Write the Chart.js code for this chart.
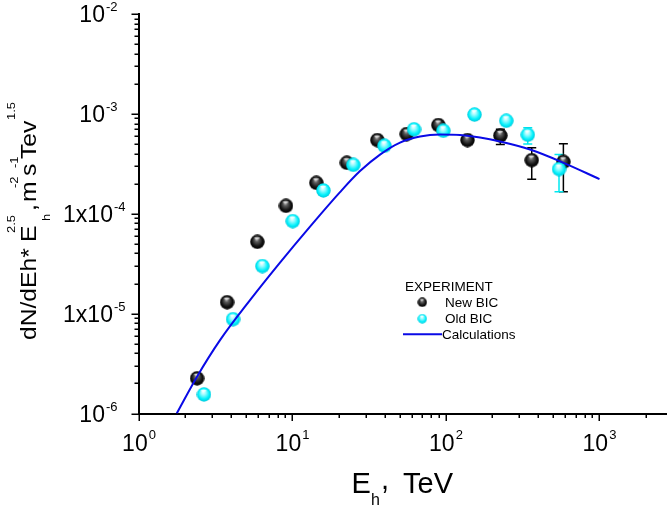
<!DOCTYPE html>
<html>
<head>
<meta charset="utf-8">
<style>
html,body{margin:0;padding:0;background:#fff;}
#c{display:block;}
</style>
</head>
<body>
<canvas id="c" width="667" height="509"></canvas>
<script src="https://cdn.jsdelivr.net/npm/chart.js@4.4.0/dist/chart.umd.min.js"></script>
<script>
// ---- data ----
const newBicE    = [2.39, 3.75, 5.9, 9.07, 14.3, 22.6, 35.7, 55.5, 89.2, 138, 226, 362, 582];
const newBicFlux = [2.25e-6, 1.30e-5, 5.23e-5, 1.20e-4, 2.04e-4, 3.24e-4, 5.46e-4, 6.28e-4, 7.73e-4, 5.46e-4, 6.07e-4, 3.44e-4, 3.31e-4];
const newBicErrLo = [null, null, null, null, null, null, null, null, null, null, 4.95e-4, 2.22e-4, 1.66e-4];
const newBicErrHi = [null, null, null, null, null, null, null, null, null, null, 7.0e-4, 4.57e-4, 5.01e-4];

const oldBicE    = [2.65, 4.10, 6.36, 10.03, 15.9, 24.9, 39.7, 61.9, 96.1, 153.5, 247, 341, 545];
const oldBicFlux = [1.55e-6, 8.79e-6, 2.99e-5, 8.43e-5, 1.71e-4, 3.09e-4, 4.79e-4, 7.0e-4, 6.77e-4, 9.84e-4, 8.53e-4, 6.18e-4, 2.80e-4];
const oldBicErrLo = [null, null, null, null, null, null, null, null, null, null, null, 4.98e-4, 1.66e-4];
const oldBicErrHi = [null, null, null, null, null, null, null, null, null, null, null, 7.26e-4, 3.93e-4];

const calcE    = [1.76, 2.377, 3.372, 5.289, 8.29, 13.01, 20.4, 27.54, 37.18, 50.2, 67.76, 91.49, 123.5, 166.7, 225.1, 353, 579, 1000];
const calcFlux = [1.0e-6, 2.311e-6, 5.426e-6, 1.365e-5, 3.241e-5, 7.436e-5, 1.648e-4, 2.676e-4, 3.914e-4, 5.162e-4, 5.929e-4, 6.208e-4, 6.137e-4, 5.793e-4, 5.282e-4, 4.393e-4, 3.254e-4, 2.224e-4];

const xTickValues = [1, 10, 100, 1000];
const xTickBase   = ['10', '10', '10', '10'];
const xTickExp    = ['0', '1', '2', '3'];
const yTickValues = [1e-2, 1e-3, 1e-4, 1e-5, 1e-6];
const yTickBase   = ['10', '10', '1x10', '1x10', '10'];
const yTickExp    = ['-2', '-3', '-4', '-5', '-6'];

const legendTitle = 'EXPERIMENT';
const seriesNames = ['New BIC', 'Old BIC', 'Calculations'];

const X_MIN = 1, X_MAX = 2754, Y_MIN = 1e-6, Y_MAX = 1e-2;
const FONT = '"Liberation Sans", Arial, Helvetica, sans-serif';
const LINE_BLUE = '#0a0ae6';

// ---- 3D sphere markers ----
function makeSphere(d, stops, hl) {
  const cv = document.createElement('canvas');
  cv.width = d; cv.height = d;
  const g = cv.getContext('2d');
  const r = d / 2;
  const grad = g.createRadialGradient(r * 0.9, r * 0.62, 0, r, r, r);
  stops.forEach(s => grad.addColorStop(s[0], s[1]));
  g.fillStyle = grad;
  g.beginPath(); g.arc(r, r, r - 0.3, 0, Math.PI * 2); g.fill();
  g.fillStyle = hl;
  g.beginPath(); g.ellipse(r * 0.95, r * 0.5, r * 0.38, r * 0.14, 0, 0, Math.PI * 2); g.fill();
  return cv;
}
const blackStops = [[0, '#c8c8c8'], [0.28, '#5a5a5a'], [0.7, '#121212'], [1, '#000000']];
const cyanStops  = [[0, '#ffffff'], [0.3, '#9ffcff'], [0.72, '#00f0fb'], [1, '#00c4d8']];
const blackBall = makeSphere(15, blackStops, 'rgba(255,255,255,0.75)');
const cyanBall  = makeSphere(15, cyanStops, 'rgba(255,255,255,0.8)');
const blackBallSmall = makeSphere(10, blackStops, 'rgba(255,255,255,0.75)');
const cyanBallSmall  = makeSphere(10, cyanStops, 'rgba(255,255,255,0.8)');

function pts(xs, ys) { return xs.map((v, i) => ({x: v, y: ys[i]})); }

function drawErrBars(ctx, xs, lo, hi, color, xs_, ys_) {
  ctx.save();
  ctx.strokeStyle = color;
  ctx.lineWidth = 1.5;
  for (let i = 0; i < xs.length; i++) {
    if (lo[i] == null || hi[i] == null) continue;
    const px = xs_.getPixelForValue(xs[i]);
    const p1 = ys_.getPixelForValue(lo[i]);
    const p2 = ys_.getPixelForValue(hi[i]);
    ctx.beginPath();
    ctx.moveTo(px, p1); ctx.lineTo(px, p2);
    ctx.moveTo(px - 4.5, p1); ctx.lineTo(px + 4.5, p1);
    ctx.moveTo(px - 4.5, p2); ctx.lineTo(px + 4.5, p2);
    ctx.stroke();
  }
  ctx.restore();
}

// text piece placed at its own start point; optional stretch along the text
function piece(ctx, t, size, x, y, angle, stretch) {
  ctx.save();
  ctx.translate(x, y);
  ctx.rotate(angle);
  ctx.scale(stretch || 1, 1);
  ctx.font = size + 'px ' + FONT;
  ctx.fillStyle = '#000';
  ctx.textAlign = 'left';
  ctx.textBaseline = 'alphabetic';
  ctx.fillText(t, 0, 0);
  ctx.restore();
}

const decorPlugin = {
  id: 'decor',
  beforeDatasetsDraw(chart) {
    const {ctx, scales: {x, y}} = chart;
    drawErrBars(ctx, newBicE, newBicErrLo, newBicErrHi, '#000000', x, y);
    drawErrBars(ctx, oldBicE, oldBicErrLo, oldBicErrHi, '#00e8f0', x, y);
  },
  afterDraw(chart) {
    const {ctx, chartArea: a, scales: {x, y}} = chart;
    ctx.save();
    // tick marks
    ctx.strokeStyle = '#000';
    ctx.lineWidth = 1.5;
    ctx.beginPath();
    for (let e = 0; e <= 3; e++) {
      for (let m = 1; m <= 9; m++) {
        const v = m * Math.pow(10, e);
        if (v > X_MAX) break;
        const px = Math.round(x.getPixelForValue(v)) + 0.25;
        ctx.moveTo(px, a.bottom);
        ctx.lineTo(px, a.bottom + (m === 1 ? 7.5 : 4.5));
      }
    }
    for (let e = -6; e <= -2; e++) {
      for (let m = 1; m <= 9; m++) {
        const v = m * Math.pow(10, e);
        if (v > Y_MAX * 1.0001) break;
        const py = Math.round(y.getPixelForValue(v)) + 0.25;
        ctx.moveTo(a.left, py);
        ctx.lineTo(a.left - (m === 1 ? 7.5 : 4.5), py);
      }
    }
    ctx.stroke();

    // x tick labels
    ctx.fillStyle = '#000';
    ctx.textBaseline = 'alphabetic';
    xTickValues.forEach((v, i) => {
      const px = x.getPixelForValue(v);
      ctx.font = '23px ' + FONT;
      const wb = ctx.measureText(xTickBase[i]).width;
      ctx.font = '13px ' + FONT;
      const ws = ctx.measureText(xTickExp[i]).width;
      const start = px - (wb + ws + 1) / 2;
      ctx.font = '23px ' + FONT;
      ctx.fillText(xTickBase[i], start, a.bottom + 37);
      ctx.font = '13px ' + FONT;
      ctx.fillText(xTickExp[i], start + wb + 1, a.bottom + 25);
    });
    // y tick labels
    yTickValues.forEach((v, i) => {
      const py = y.getPixelForValue(v);
      ctx.font = '23px ' + FONT;
      const wb = ctx.measureText(yTickBase[i]).width;
      ctx.font = '13px ' + FONT;
      const ws = ctx.measureText(yTickExp[i]).width;
      const right = a.left - (yTickBase[i].length > 2 ? 13.5 : 21.5);
      const start = right - ws - wb - 1;
      ctx.font = '23px ' + FONT;
      ctx.fillText(yTickBase[i], start, py + 8);
      ctx.font = '13px ' + FONT;
      ctx.fillText(yTickExp[i], start + wb + 1, py - 3);
    });

    // x axis title  E_h, TeV
    piece(ctx, 'E', 29, 351.5, 493.3, 0);
    piece(ctx, 'h', 16, 371, 505, 0);
    piece(ctx, ',', 29, 381, 489, 0);
    piece(ctx, 'TeV', 29, 403, 493.3, 0);

    // y axis title (rotated, reads bottom to top)
    const R = -Math.PI / 2, S = 1.12;
    piece(ctx, 'dN/dEh*', 22, 36, 340, R, S);
    piece(ctx, 'E', 22, 36, 242, R, S);
    piece(ctx, '2.5', 11.5, 15, 233, R, S);
    piece(ctx, 'h', 11.5, 50, 221, R, S);
    piece(ctx, ',', 22, 36, 211, R, S);
    piece(ctx, 'm', 22, 36, 202, R, S);
    piece(ctx, '-2', 11.5, 18, 188, R, S);
    piece(ctx, 's', 22, 36, 176, R, S);
    piece(ctx, '-1', 11.5, 18, 168, R, S);
    piece(ctx, 'Tev', 22, 36, 159, R, S);
    piece(ctx, '1.5', 11.5, 15, 120, R, S);

    // legend
    ctx.fillStyle = '#000';
    ctx.font = '13.5px ' + FONT;
    ctx.fillText(legendTitle, 405, 291);
    ctx.drawImage(blackBallSmall, 422.3 - 5, 302.3 - 5);
    ctx.fillText(seriesNames[0], 445, 306.7);
    ctx.drawImage(cyanBallSmall, 422.3 - 5, 318.7 - 5);
    ctx.fillText(seriesNames[1], 445, 322.7);
    ctx.strokeStyle = LINE_BLUE;
    ctx.lineWidth = 2;
    ctx.beginPath(); ctx.moveTo(403, 334.3); ctx.lineTo(442, 334.3); ctx.stroke();
    ctx.fillText(seriesNames[2], 442, 338.7);
    ctx.restore();
  }
};

new Chart(document.getElementById('c'), {
  type: 'scatter',
  data: {
    datasets: [
      {
        label: seriesNames[2],
        data: pts(calcE, calcFlux),
        showLine: true,
        borderColor: LINE_BLUE,
        borderWidth: 2,
        pointRadius: 0,
        pointHoverRadius: 0,
        cubicInterpolationMode: 'monotone',
        fill: false,
        order: 0
      },
      {
        label: seriesNames[1],
        data: pts(oldBicE, oldBicFlux),
        pointStyle: cyanBall,
        pointRadius: 7,
        order: 1
      },
      {
        label: seriesNames[0],
        data: pts(newBicE, newBicFlux),
        pointStyle: blackBall,
        pointRadius: 7,
        order: 2
      }
    ]
  },
  options: {
    responsive: false,
    devicePixelRatio: 1,
    animation: false,
    layout: {autoPadding: false, padding: {top: 14, right: 0, left: 0, bottom: 0}},
    plugins: {legend: {display: false}, tooltip: {enabled: false}},
    scales: {
      x: {
        type: 'logarithmic',
        min: X_MIN, max: X_MAX,
        grid: {display: false},
        border: {display: true, color: '#000', width: 2},
        ticks: {display: false},
        afterFit(s) { s.height = 95.5; }
      },
      y: {
        type: 'logarithmic',
        min: Y_MIN, max: Y_MAX,
        grid: {display: false},
        border: {display: true, color: '#000', width: 2},
        ticks: {display: false},
        afterFit(s) { s.width = 139; }
      }
    }
  },
  plugins: [decorPlugin]
});
</script>
</body>
</html>
